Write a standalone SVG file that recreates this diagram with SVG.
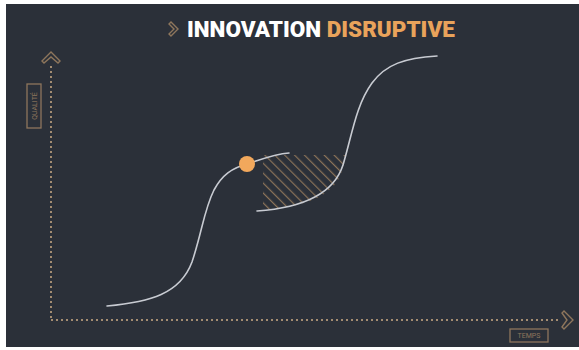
<svg xmlns="http://www.w3.org/2000/svg" width="579" height="350" viewBox="0 0 579 350">
<defs>
<style>
.axis{fill:none;stroke:#a48d72;stroke-width:2;stroke-dasharray:2 3}
.chev{fill:none;stroke:#8e765c;stroke-width:1.4;stroke-linejoin:miter}
.curve{fill:none;stroke:#c8cbd2;stroke-width:1.6;stroke-linecap:round}
.lbox{fill:none;stroke:#8e765c;stroke-width:1.3}
.ltxt{font-family:Roboto,"Liberation Sans",sans-serif;font-size:7px;fill:#8e765c;text-anchor:middle}
.title{font-family:Roboto,"Liberation Sans",sans-serif;font-size:22.5px;font-weight:900}
</style>
<pattern id="hatch" patternUnits="userSpaceOnUse" width="7" height="7" patternTransform="rotate(-45)">
<line x1="0" y1="0" x2="0" y2="7" stroke="#8a7258" stroke-width="2.4"/>
</pattern>
</defs>
<rect x="0" y="0" width="579" height="350" fill="#ffffff"/>
<rect x="6" y="4" width="573" height="343" fill="#2b3039"/>

<g id="title">
<polygon class="chev" points="178,29 171,36 169,34 174,29 169,24 171,22" stroke="#a07a50" stroke-width="1.6"/>
<text class="title" x="187" y="37"><tspan fill="#ffffff">INNOVATION </tspan><tspan fill="#e9a35b">DISRUPTIVE</tspan></text>
</g>

<g id="axes">
<line class="axis" x1="51" y1="66" x2="51" y2="320"/>
<line class="axis" x1="51" y1="320" x2="560" y2="320"/>
<polygon class="chev" points="51,52 60,61 58,63 51,57 44,63 42,61"/>
<polygon class="chev" points="573,320 564,329 562,327 567,320 562,313 564,311"/>
</g>

<g id="label-qualite">
<rect class="lbox" x="27" y="84" width="14" height="44"/>
<text class="ltxt" transform="translate(36.5,106) rotate(-90)">QUALITÉ</text>
</g>

<g id="label-temps">
<rect class="lbox" x="510" y="329" width="38" height="13"/>
<text class="ltxt" x="529" y="338">TEMPS</text>
</g>

<g id="hatch-area">
<path d="M263,155 L346,155 C344,166 341,175 337,182 C323,200 300,207 263,209.5 Z" fill="url(#hatch)"/>
</g>

<g id="connectors">
<path id="curve1" class="curve" d="M107,306 C150,302 180,294 192,262 C202,232 204,210 214,190 C222,175 232,168 247,164 C262,159 275,154 289,153"/>
<path id="curve2" class="curve" d="M257,211 C300,208 333,196 343,165 C352,135 356,105 372,83 C386,64 405,58 437,56"/>
</g>

<g id="dot">
<circle cx="247" cy="164" r="8" fill="#f2a85c"/>
</g>
</svg>
